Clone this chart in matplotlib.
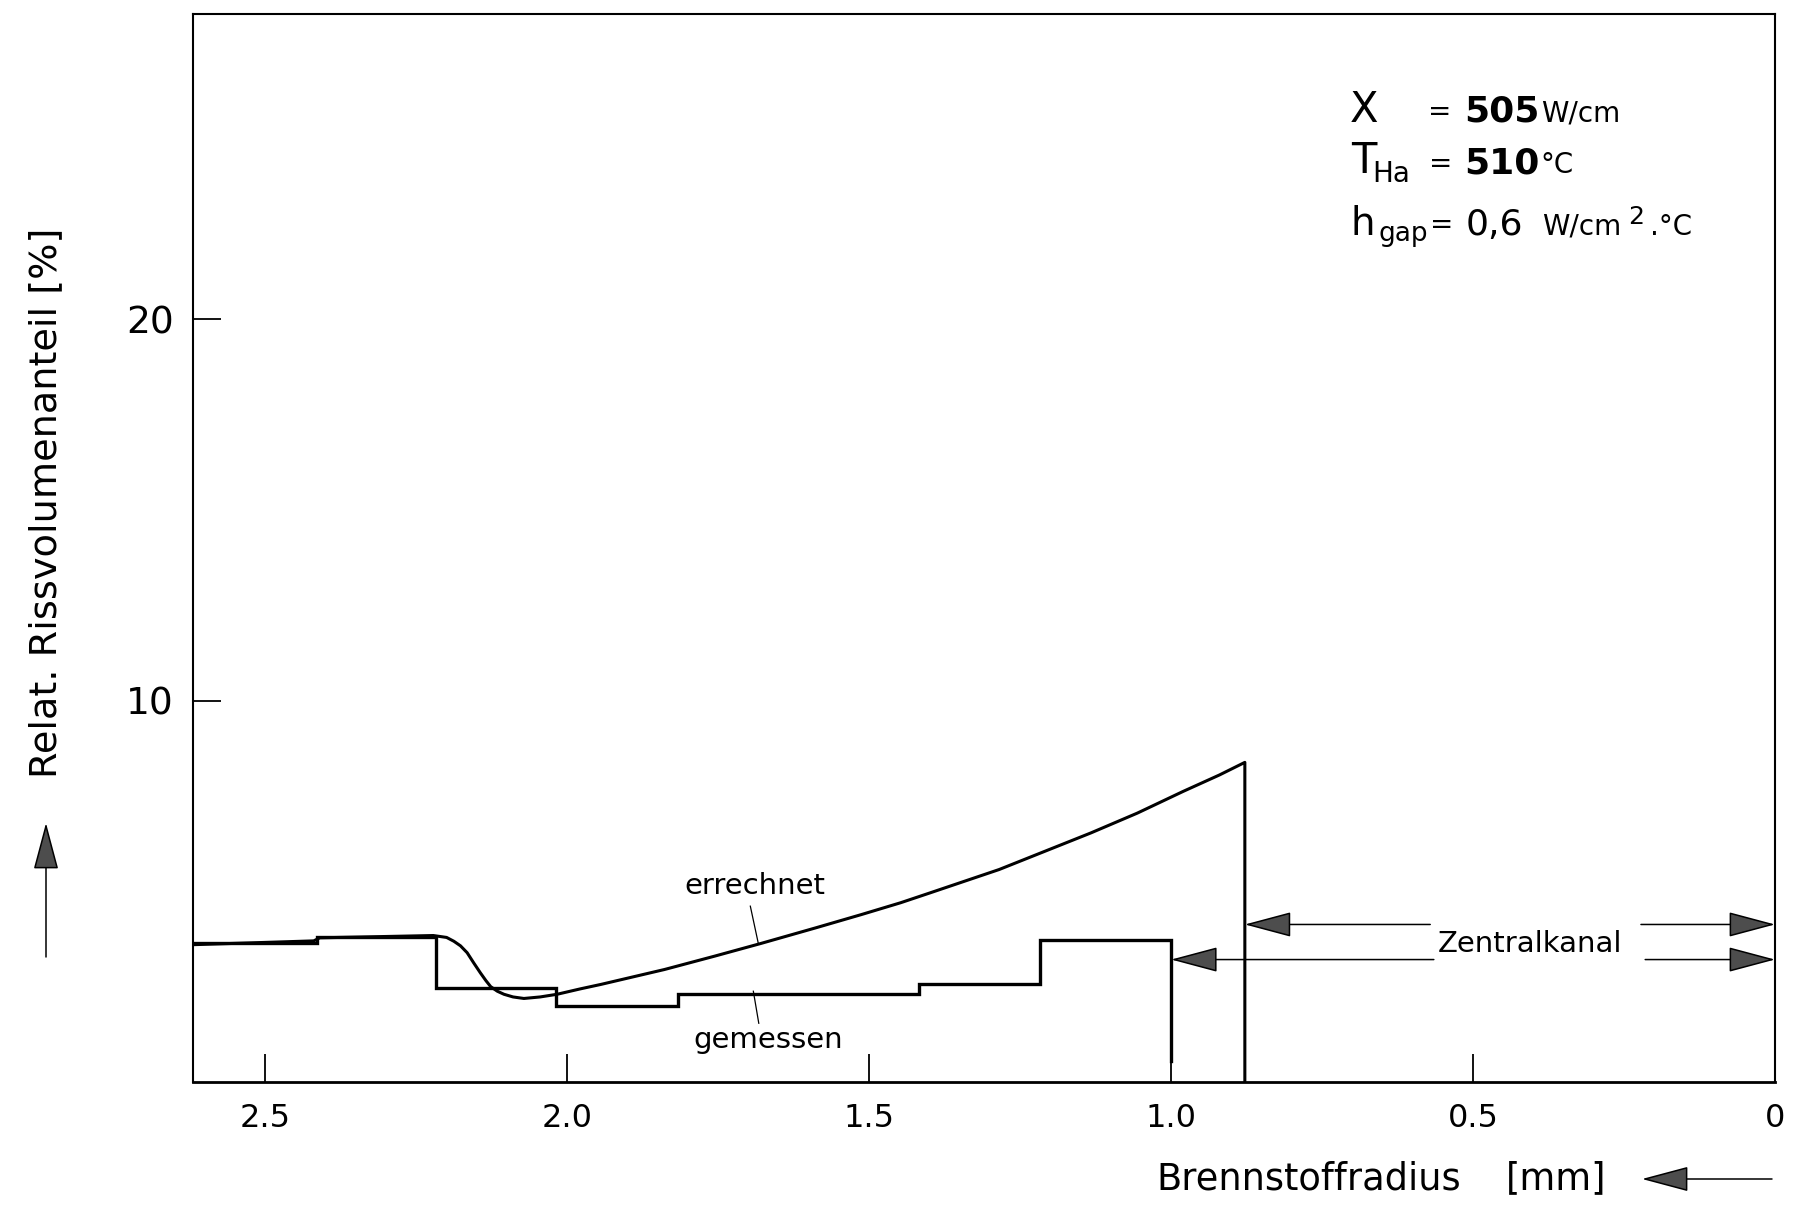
import numpy as np
import matplotlib
matplotlib.use('Agg')
import matplotlib.pyplot as plt

# Messwerte (Stufen je Ring) und Rechnung, Radius in mm
ring_kanten = [2.62, 2.414, 2.217, 2.018, 1.816, 1.418, 1.217, 1.0]
gemessen = [3.65, 3.80, 2.47, 1.99, 2.30, 2.56, 3.73]
gemessen_ende = 0.55

r_rechnung = [2.62, 2.42, 2.41, 2.222, 2.20, 2.188, 2.177, 2.166, 2.155, 2.144,
              2.135, 2.127, 2.116, 2.105, 2.09, 2.072, 2.045, 2.017, 1.979,
              1.944, 1.839, 1.756, 1.680, 1.589, 1.513, 1.448, 1.399, 1.285,
              1.209, 1.133, 1.056, 0.980, 0.920, 0.878]
errechnet = [3.60, 3.70, 3.78, 3.84, 3.79, 3.69, 3.57, 3.39, 3.12, 2.86,
             2.66, 2.50, 2.38, 2.30, 2.23, 2.19, 2.23, 2.30, 2.44,
             2.56, 2.95, 3.30, 3.63, 4.04, 4.39, 4.70, 4.96, 5.57,
             6.05, 6.53, 7.05, 7.62, 8.05, 8.38]

x_ticks = [2.5, 2.0, 1.5, 1.0, 0.5, 0]
x_labels = ['2.5', '2.0', '1.5', '1.0', '0.5', '0']
y_ticks = [10, 20]

W, H = 1804, 1217
fig = plt.figure(figsize=(W / 100, H / 100), dpi=100)
plt.rcParams['font.family'] = ['DejaVu Sans']
ax = fig.add_axes([193 / W, 1 - 1082 / H, (1775 - 193) / W, (1082 - 14) / H])

# gemessen: Treppenkurve
xs = np.repeat(ring_kanten, 2)[1:-1]
ys = np.repeat(gemessen, 2)
xs = np.append(xs, ring_kanten[-1])
ys = np.append(ys, gemessen_ende)
ax.plot(xs, ys, color='black', lw=2.4, solid_joinstyle='miter')

# errechnet: glatte Kurve bis zum Zentralkanal
xr = np.append(r_rechnung, r_rechnung[-1])
yr = np.append(errechnet, 0)
ax.plot(xr, yr, color='black', lw=2.2)

ax.set_xlim(2.62, 0)
ax.set_ylim(0, 28)
ax.set_xticks(x_ticks)
ax.set_xticklabels(x_labels)
ax.set_yticks(y_ticks)
ax.tick_params(axis='both', direction='in', length=20, width=1.3)
ax.tick_params(axis='x', labelsize=23, pad=15)
ax.tick_params(axis='y', labelsize=27, pad=14)
for s in ax.spines.values():
    s.set_linewidth(1.5)
ax.spines['bottom'].set_linewidth(2.0)

# Beschriftung der Kurven
ax.text(1.689, 5.15, 'errechnet', fontsize=21, ha='center', va='center')
ax.plot([1.697, 1.684], [4.61, 3.65], color='black', lw=0.9)
ax.text(1.667, 1.09, 'gemessen', fontsize=21, ha='center', va='center')
ax.plot([1.692, 1.683], [2.38, 1.54], color='black', lw=0.9)

# Zentralkanal-Pfeile
pfeil = dict(arrowstyle='-|>,head_length=1.5,head_width=0.4', mutation_scale=20,
             fc='0.3', ec='black', lw=1.1, shrinkA=0, shrinkB=0)
ax.annotate('', xy=(0.878, 4.13), xytext=(0.571, 4.13), arrowprops=pfeil)
ax.annotate('', xy=(0.0, 4.13), xytext=(0.222, 4.13), arrowprops=pfeil)
ax.annotate('', xy=(1.0, 3.21), xytext=(0.565, 3.21), arrowprops=pfeil)
ax.annotate('', xy=(0.0, 3.21), xytext=(0.215, 3.21), arrowprops=pfeil)
ax.text(0.405, 3.62, 'Zentralkanal', fontsize=21, ha='center', va='center')

# Achsentitel mit Pfeilen
fig.text(46 / W, 1 - 503 / H, 'Relat. Rissvolumenanteil [%]', rotation=90,
         fontsize=27.5, ha='center', va='center')
ax.annotate('', xy=(46, H - 823), xytext=(46, H - 957), xycoords='figure pixels',
            arrowprops=pfeil, annotation_clip=False)
fig.text(1156 / W, 1 - 1179 / H, 'Brennstoffradius', fontsize=26.5,
         ha='left', va='center')
fig.text(1506 / W, 1 - 1179 / H, '[mm]', fontsize=26.5, ha='left', va='center')
ax.annotate('', xy=(1642, H - 1179), xytext=(1772, H - 1179), xycoords='figure pixels',
            arrowprops=pfeil, annotation_clip=False)

# Parameterblock oben rechts
def ft(x, y, s, size, **kw):
    fig.text(x / W, 1 - y / H, s, fontsize=size, va='baseline', **kw)

ft(1350, 122, 'X', 30)
ft(1428, 120, '=', 20)
ft(1464, 122, '505', 26, weight='semibold')
ft(1541, 122, 'W/cm', 20)

ft(1351, 173, 'T', 30)
ft(1372, 182, 'Ha', 20)
ft(1429, 172, '=', 20)
ft(1464, 173, '510', 26, weight='semibold')
ft(1540, 173, '°C', 20)

ft(1350, 235, 'h', 28)
ft(1378, 241, 'gap', 19)
ft(1430, 233, '=', 20)
ft(1466, 235, '0,6', 26)
ft(1542, 235, 'W/cm', 20)
ft(1628, 224, '2', 18)
ft(1650, 235, '.°C', 20)

fig.savefig('out.png', dpi=100)
